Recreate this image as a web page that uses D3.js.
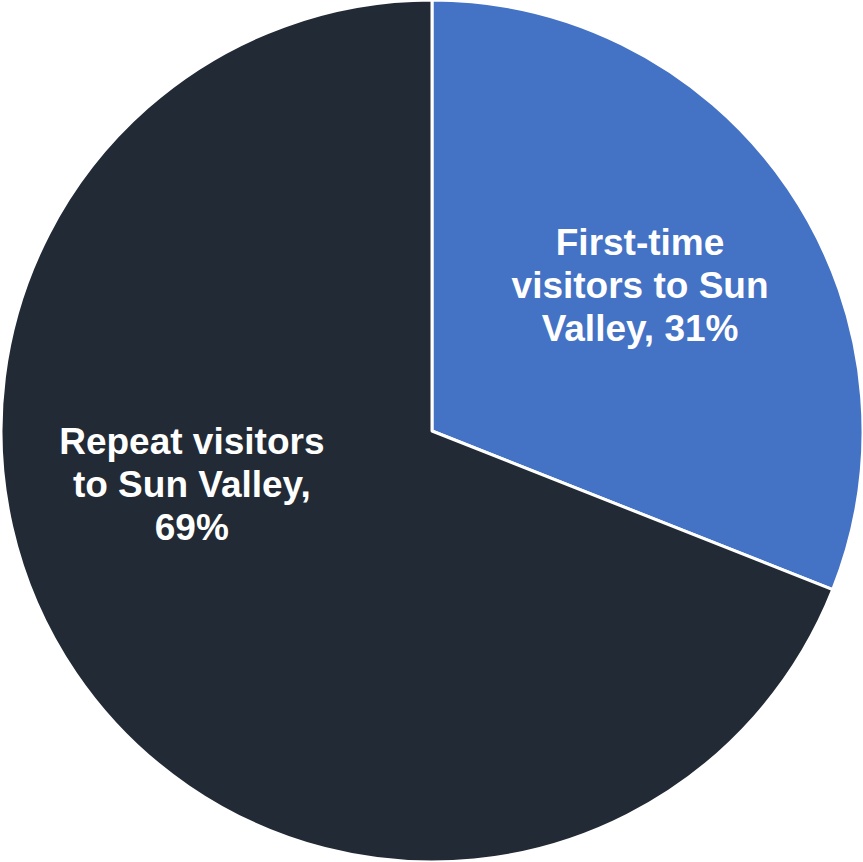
<!DOCTYPE html>
<html>
<head>
<meta charset="utf-8">
<script src="https://d3js.org/d3.v7.min.js"></script>
<style>
	body { margin: 0; background: #fff; }
</style>
</head>
<body>
<svg id="chart" width="863" height="862"></svg>
<script>
// slice data
var categories = ["First-time visitors to Sun Valley", "Repeat visitors to Sun Valley"];
var values = [31, 69];
var label_lines = [
	["First-time", "visitors to Sun", "Valley, 31%"],
	["Repeat visitors", "to Sun Valley,", "69%"]
];
var colors = ["#4472C4", "#222A35"];

var svg = d3.select("#chart");
var cx = 432, cy = 431, radius = 431;

var g = svg.append("g").attr("transform", "translate(" + cx + "," + cy + ")");

var pie = d3.pie().sort(null).value(function(d) { return d; });
var arcs = pie(values);
var arc = d3.arc().innerRadius(0).outerRadius(radius);

g.selectAll("path").data(arcs).enter().append("path")
	.attr("d", arc)
	.attr("fill", function(d, i) { return colors[i]; })
	.attr("stroke", "#fff")
	.attr("stroke-width", 3)
	.attr("stroke-linejoin", "round");

// label placement: roughly 250px out, the big slice's label gets pushed round to the left
var label_r = [254, 246];
var angle_shift = [-0.014, 0.379];
var line_h = 43;

arcs.forEach(function(d, i) {
	var a = (d.startAngle + d.endAngle) / 2 + angle_shift[i];
	var x = label_r[i] * Math.sin(a);
	var y = -label_r[i] * Math.cos(a);
	var lines = label_lines[i];
	var t = g.append("text")
		.attr("text-anchor", "middle")
		.attr("font-family", "Liberation Sans, Arial, sans-serif")
		.attr("font-weight", "bold")
		.attr("font-size", "37px")
		.attr("fill", "#fff");
	lines.forEach(function(s, j) {
		t.append("tspan")
			.attr("x", x)
			.attr("y", y + (j - (lines.length - 1) / 2) * line_h)
			.attr("dy", "0.35em")
			.text(s);
	});
});
</script>
</body>
</html>
